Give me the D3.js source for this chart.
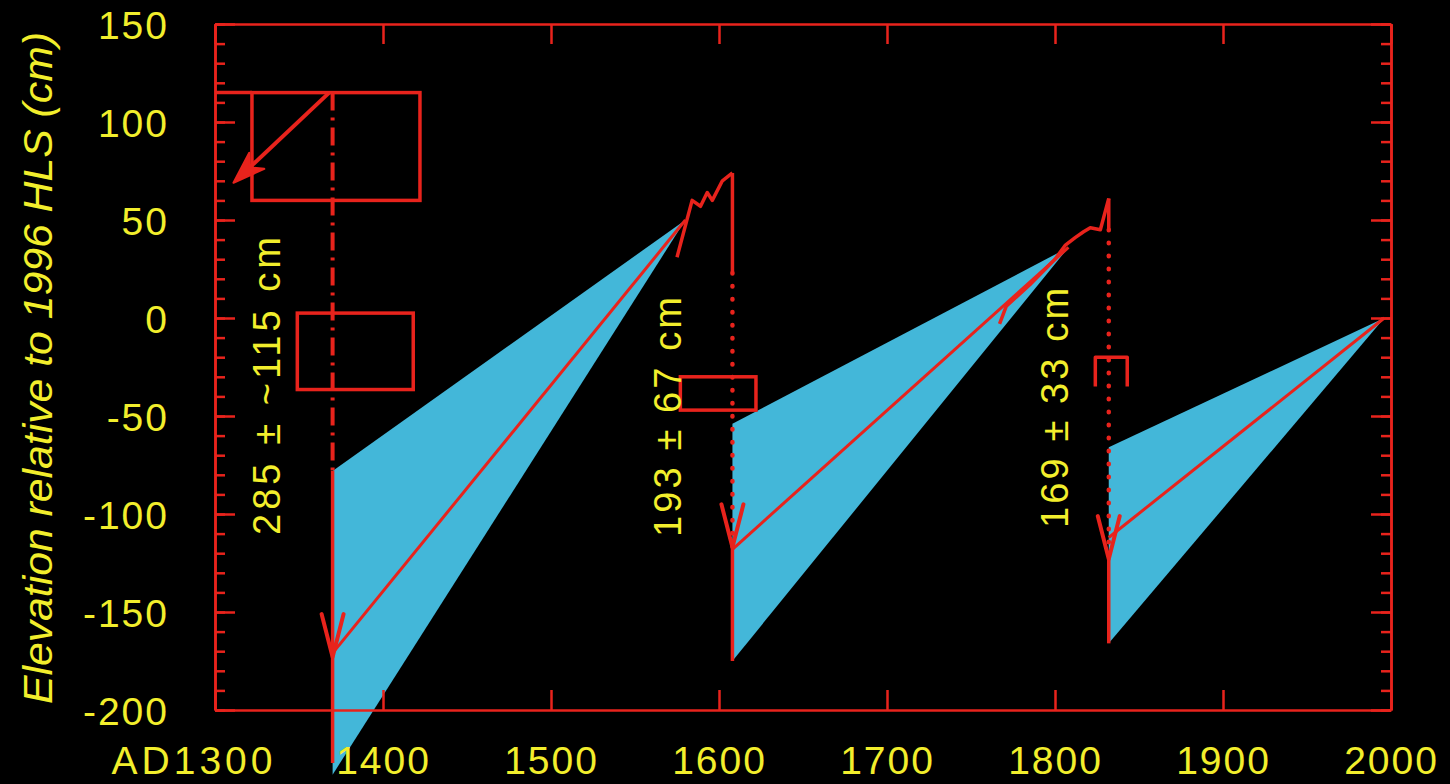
<!DOCTYPE html>
<html><head><meta charset="utf-8">
<script src="https://cdn.jsdelivr.net/npm/d3@7/dist/d3.min.js"></script>
<style>html,body{margin:0;padding:0;background:#000;overflow:hidden}</style>
</head><body><svg id="c" width="1450" height="784"></svg>
<script>
// ---------- data ----------
const xTicks = [1300,1400,1500,1600,1700,1800,1900,2000];
const xTickLabels = ["AD1300","1400","1500","1600","1700","1800","1900","2000"];
const yMajorTicks = [-200,-150,-100,-50,0,50,100,150];
const yTickLabels = ["-200","-150","-100","-50","0","50","100","150"];

// abrupt subsidence events
const dropYears   = [1370, 1608, 1832];
const peakElev    = [115, 74, 61];
const dashStart   = [115, 23, 45];
const dashEnd     = [-78, -117, -123];
const tipElev     = [-173, -117, -123];
const dropBottom  = [-227, -175, -166];

// uplift wedges (uncertainty envelopes)
const wedgeTop    = [-78, -54, -66];
const wedgeBottom = [-233, -175, -166];
const apexYears   = [1580, 1808, 1996];
const apexElev    = [50, 36, 0];
const trendStart  = [-171, -118, -112];

// observed records before events
const obs1Years = [1575, 1584, 1589, 1593, 1596, 1602, 1608];
const obs1Elev  = [31, 60, 57, 64, 60, 70, 74];
const obs2Years = [1767, 1771, 1785, 1800, 1806, 1812, 1817, 1821, 1827, 1832];
const obs2Elev  = [-3, 6, 17, 30, 37, 41, 44, 46, 45, 61];

// boxes
const boxX0 = [1322, 1349, 1577];
const boxX1 = [1422, 1418, 1622];
const boxY0 = [60, -36.5, -47];
const boxY1 = [115, 2.5, -30];
const bracketX = [1824, 1843];
const bracketY = [-35, -20];

// top-left arrow
const arrowFrom = [1368, 115];
const arrowTo   = [1311, 69];
const hlineYears = [1300, 1322];
const hlineElev  = 115;

// annotations
const annText  = ["285 \u00b1 ~115 cm", "193 \u00b1 67 cm", "169 \u00b1 33 cm"];
const annYear  = [1338.7, 1577.4, 1807.7];
const annElev  = [-34.7, -50.5, -45.9];
const annLen   = [298, 240, 240];

const yTitle = "Elevation relative to 1996 HLS (cm)";

// ---------- drawing ----------
const RED = "#e8231c", CYAN = "#43b7d9", YEL = "#f2ee2c";
const FONT = "'Liberation Sans', Arial, Helvetica, sans-serif";
const svg = d3.select("#c");
svg.append("rect").attr("width",1450).attr("height",784).attr("fill","#000");

const m = {l:215, r:1391, t:24, b:710};
const x = d3.scaleLinear().domain([1300,2000]).range([m.l,m.r]);
const y = d3.scaleLinear().domain([-200,150]).range([m.b,m.t]);

// wedges
dropYears.forEach((yr,i)=>{
  const pts = [[yr,wedgeTop[i]],[apexYears[i],apexElev[i]],[yr,wedgeBottom[i]]];
  svg.append("path")
    .attr("d", d3.line().x(d=>x(d[0])).y(d=>y(d[1]))(pts)+"Z")
    .attr("fill", CYAN).attr("stroke","none");
});

// axes
function styleAxis(g){
  g.select(".domain").attr("stroke",RED).attr("stroke-width",2.5);
  g.selectAll(".tick line").attr("stroke",RED).attr("stroke-width",2.5);
  g.selectAll(".tick text").attr("fill",YEL).style("font-family",FONT)
    .style("font-size","39px").style("letter-spacing","2px");
}
const gB = svg.append("g").attr("transform",`translate(0,${m.b})`)
  .call(d3.axisBottom(x).tickValues(xTicks).tickFormat((d,i)=>xTickLabels[i])
        .tickSize(-20).tickSizeOuter(0).tickPadding(36));
styleAxis(gB);
gB.selectAll(".tick text").filter((d,i)=>i===0).attr("text-anchor","end").attr("x",61)
  .style("letter-spacing","4px");
const gT = svg.append("g").attr("transform",`translate(0,${m.t})`)
  .call(d3.axisTop(x).tickValues(xTicks).tickFormat("").tickSize(-20).tickSizeOuter(0));
styleAxis(gT);
const gLm = svg.append("g").attr("transform",`translate(${m.l},0)`)
  .call(d3.axisLeft(y).ticks(35).tickFormat("").tickSize(-10).tickSizeOuter(0));
styleAxis(gLm);
const gL = svg.append("g").attr("transform",`translate(${m.l},0)`)
  .call(d3.axisLeft(y).tickValues(yMajorTicks).tickFormat((d,i)=>yTickLabels[i])
        .tickSize(-20).tickSizeOuter(0).tickPadding(46));
styleAxis(gL);
gL.selectAll(".tick text").attr("dy","0.38em");
const gRm = svg.append("g").attr("transform",`translate(${m.r},0)`)
  .call(d3.axisRight(y).ticks(35).tickFormat("").tickSize(-10).tickSizeOuter(0));
styleAxis(gRm);
const gR = svg.append("g").attr("transform",`translate(${m.r},0)`)
  .call(d3.axisRight(y).tickValues(yMajorTicks).tickFormat("").tickSize(-20).tickSizeOuter(0));
styleAxis(gR);

// y title
svg.append("text")
  .attr("transform",`translate(52,${(m.t+m.b)/2+1}) rotate(-90)`)
  .attr("text-anchor","middle").attr("fill",YEL)
  .style("font-family",FONT).style("font-style","italic").style("font-size","40px")
  .attr("textLength",672).attr("lengthAdjust","spacingAndGlyphs")
  .text(yTitle);

const line = d3.line().x(d=>x(d[0])).y(d=>y(d[1]));
function seg(pts, w, dash, cap){
  const p = svg.append("path").attr("d",line(pts)).attr("fill","none")
    .attr("stroke",RED).attr("stroke-width",w).attr("stroke-linejoin","round");
  if(dash) p.attr("stroke-dasharray",dash);
  if(cap) p.attr("stroke-linecap",cap);
  return p;
}

// boxes
boxX0.forEach((bx,i)=>{
  svg.append("rect").attr("x",x(bx)).attr("y",y(boxY1[i]))
    .attr("width",x(boxX1[i])-x(bx)).attr("height",y(boxY0[i])-y(boxY1[i]))
    .attr("fill","none").attr("stroke",RED).attr("stroke-width",3.5);
});
seg([[bracketX[0],bracketY[0]],[bracketX[0],bracketY[1]],[bracketX[1],bracketY[1]],[bracketX[1],bracketY[0]]],3.5);
seg([[hlineYears[0],hlineElev],[hlineYears[1],hlineElev]],3.5);

// top-left arrow
(function(){
  const x0=x(arrowFrom[0]), y0=y(arrowFrom[1]), x1=x(arrowTo[0]), y1=y(arrowTo[1]);
  const dx=x0-x1, dy=y0-y1, L=Math.hypot(dx,dy), ux=dx/L, uy=dy/L;
  const hl=32, hw=11;
  svg.append("line").attr("x1",x0).attr("y1",y0).attr("x2",x1+ux*hl*0.6).attr("y2",y1+uy*hl*0.6)
    .attr("stroke",RED).attr("stroke-width",4);
  svg.append("path").attr("d",`M${x1},${y1} L${x1+ux*hl-uy*hw},${y1+uy*hl+ux*hw} L${x1+ux*hl*0.7},${y1+uy*hl*0.7} L${x1+ux*hl+uy*hw},${y1+uy*hl-ux*hw}Z`)
    .attr("fill",RED).attr("stroke",RED).attr("stroke-width",2).attr("stroke-linejoin","round");
})();

// trend lines inside wedges
dropYears.forEach((yr,i)=>{
  seg([[yr,trendStart[i]],[apexYears[i],apexElev[i]]],3);
});

// observed curves
seg(obs1Years.map((d,i)=>[d,obs1Elev[i]]),3.5);
seg(obs2Years.map((d,i)=>[d,obs2Elev[i]]),3.5);

// vertical drop lines
dropYears.forEach((yr,i)=>{
  if(peakElev[i]>dashStart[i]) seg([[yr,peakElev[i]],[yr,dashStart[i]]],3.5);
  if(i===0) seg([[yr,dashStart[i]],[yr,dashEnd[i]]],4,"18,7,3,7");
  else seg([[yr,dashStart[i]],[yr,dashEnd[i]]],4.5,"0.5,12.5","round");
  seg([[yr,dashEnd[i]],[yr,dropBottom[i]]],3.5);
  const px=x(yr), py=y(tipElev[i]);
  svg.append("path").attr("d",`M${px-11},${py-43} L${px},${py} L${px+11},${py-43}`)
    .attr("fill","none").attr("stroke",RED).attr("stroke-width",4)
    .attr("stroke-linejoin","round").attr("stroke-linecap","round");
});

// annotations
annText.forEach((t,i)=>{
  svg.append("text")
    .attr("transform",`translate(${x(annYear[i])},${y(annElev[i])}) rotate(-90)`)
    .attr("text-anchor","middle").attr("fill",YEL)
    .style("font-family",FONT).style("font-size","38px")
    .attr("textLength",annLen[i]).attr("lengthAdjust","spacing")
    .text(t);
});
</script></body></html>
